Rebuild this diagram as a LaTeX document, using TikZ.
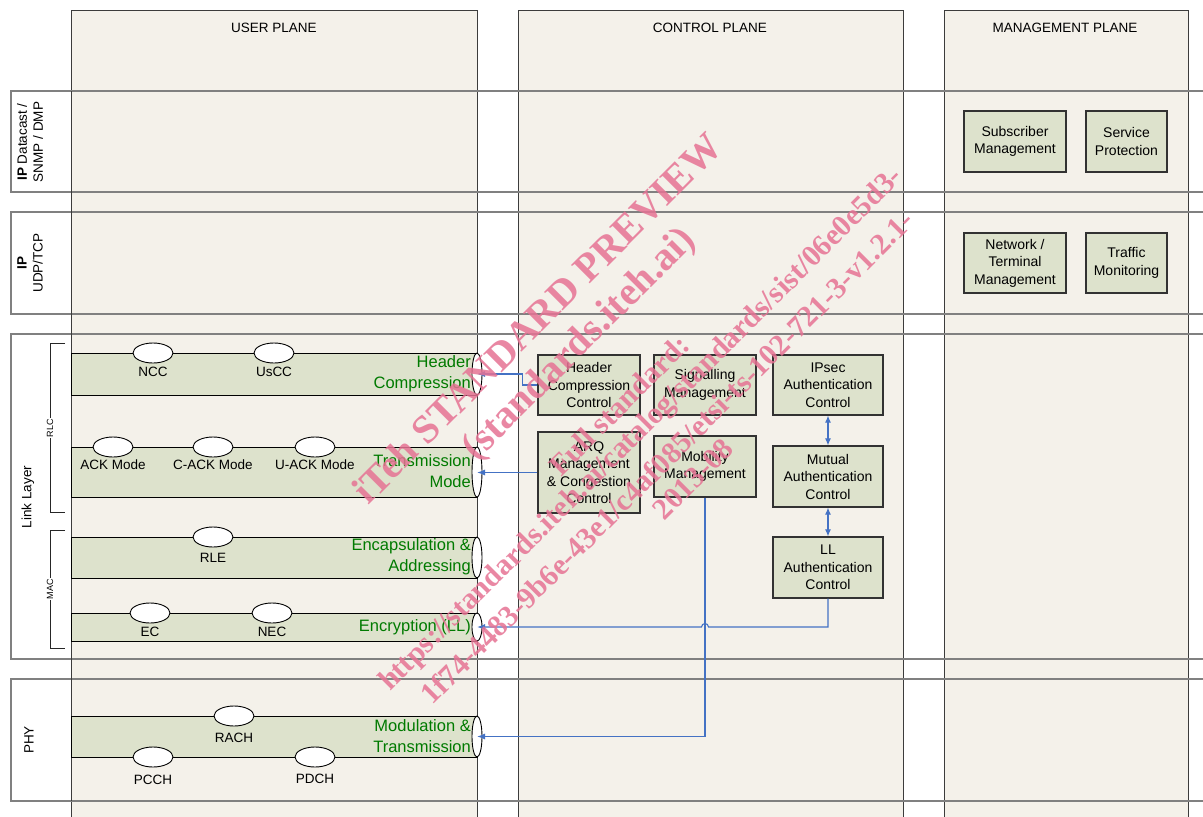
\documentclass[tikz,border=0pt]{standalone}
\usepackage{fontspec}
\setmainfont{Liberation Sans}
\newfontfamily\wmfont{Liberation Serif}
\usetikzlibrary{arrows.meta,calc,shapes.geometric}
\definecolor{beige}{RGB}{244,241,234}
\definecolor{bandfill}{RGB}{221,226,204}
\definecolor{rowgray}{RGB}{128,128,128}
\definecolor{coledge}{RGB}{60,60,60}
\definecolor{boxedge}{RGB}{50,50,50}
\definecolor{conblue}{RGB}{68,114,196}
\definecolor{labgreen}{RGB}{0,122,0}
\definecolor{wmpink}{RGB}{230,115,148}
\tikzset{
  column/.style={fill=beige, draw=coledge, line width=1pt},
  rowbox/.style={draw=rowgray, line width=1.6pt},
  band/.style={rectangle, fill=bandfill, draw=black, line width=0.9pt, inner sep=0pt, outer sep=0pt, minimum width=406pt},
  endell/.style={ellipse, draw=black, fill=white, line width=0.9pt, inner sep=0pt, outer sep=0pt, minimum width=10pt},
  oval/.style={ellipse, draw=black, fill=white, line width=0.9pt, inner sep=0pt, minimum width=40pt, minimum height=20pt},
  ovlab/.style={inner sep=0pt, font=\fontsize{13.5}{16}\selectfont},
  bandlab/.style={inner sep=0pt, anchor=east, align=right, text=labgreen, font=\fontsize{16.5}{21}\selectfont},
  box/.style={rectangle, draw=boxedge, line width=1.2pt, fill=bandfill, align=center, inner sep=0pt, font=\fontsize{14}{17.5}\selectfont},
  hdr/.style={inner sep=0pt, font=\fontsize{13.5}{16}\selectfont},
  rowlab/.style={inner sep=0pt, rotate=90, align=center, font=\fontsize{13.5}{16}\selectfont},
  brk/.style={draw=black!85, line width=0.9pt},
  sublab/.style={rotate=90, fill=white, inner sep=1pt, font=\fontsize{9}{10}\selectfont},
  conn/.style={draw=conblue, line width=1.1pt, -{Latex[length=8pt,width=6pt]}},
  dblconn/.style={draw=conblue, line width=1.1pt, {Latex[length=7pt,width=6pt]}-{Latex[length=7pt,width=6pt]}},
  wm/.style={text=wmpink, opacity=0.85, rotate=45, inner sep=0pt}
}
\begin{document}
\begin{tikzpicture}[x=1pt,y=-1pt]
\useasboundingbox (0,0) rectangle (1203,817);
\clip (0,0) rectangle (1203,817);
\fill[white] (0,0) rectangle (1203,817);
% columns
\draw[column] (71,10) rectangle (477,830);
\draw[column] (518,10) rectangle (903,830);
\draw[column] (944,10) rectangle (1188,830);
\node[hdr] (hU) at (274,28) {USER PLANE};
\node[hdr] (hC) at (710,28) {CONTROL PLANE};
\node[hdr] (hM) at (1065,28) {MANAGEMENT PLANE};
% rows
\fill[white] (11,91) rectangle (71,192);
\fill[white] (11,212) rectangle (71,314);
\fill[white] (11,334) rectangle (71,659);
\fill[white] (11,679) rectangle (71,801);
\draw[rowbox] (1215,91) -- (11,91) -- (11,192) -- (1215,192);
\draw[rowbox] (1215,212) -- (11,212) -- (11,314) -- (1215,314);
\draw[rowbox] (1215,334) -- (11,334) -- (11,659) -- (1215,659);
\draw[rowbox] (1215,679) -- (11,679) -- (11,801) -- (1215,801);
\draw[coledge, line width=1pt] (71,91) -- (71,801);
\node[rowlab] (lIPD) at (30,142) {\textbf{IP} Datacast /\\SNMP / DMP};
\node[rowlab] (lIP) at (30,263) {\textbf{IP}\\UDP/TCP};
\node[rowlab] (lLL) at (28,497) {Link Layer};
\node[rowlab] (lPHY) at (29,740) {PHY};
% brackets
\draw[brk] (65,343) -- (50,343) -- (50,512) -- (65,512);
\node[sublab] (rlc) at (50,428) {RLC};
\draw[brk] (65,530) -- (50,530) -- (50,648) -- (65,648);
\node[sublab] (mac) at (50,589) {MAC};
% bands
\node[band, minimum height=42pt] (hcB) at (274,374) {};
\node[band, minimum height=50pt] (tmB) at (274,472) {};
\node[band, minimum height=41pt] (eaB) at (274,557.5) {};
\node[band, minimum height=28pt] (enB) at (274,627) {};
\node[band, minimum height=41pt] (mtB) at (274,736.5) {};
\node[endell, minimum height=42pt] (hcE) at (477,374) {};
\node[endell, minimum height=50pt] (tmE) at (477,472) {};
\node[endell, minimum height=41pt] (eaE) at (477,557.5) {};
\node[endell, minimum height=28pt] (enE) at (477,627) {};
\node[endell, minimum height=41pt] (mtE) at (477,736.5) {};
\node[bandlab] (hcL) at (471,374) {Header\\Compression};
\node[bandlab] (tmL) at (471,471) {Transmission\\Mode};
\node[bandlab] (eaL) at (471,557) {Encapsulation \&\\Addressing};
\node[bandlab] (enL) at (471,627) {Encryption (LL)};
\node[bandlab] (mtL) at (471,736) {Modulation \&\\Transmission};
% ovals
\node[oval] (ncc) at (153,353) {};
\node[ovlab] (nccL) at (153,372) {NCC};
\node[oval] (uscc) at (274,353) {};
\node[ovlab] (usccL) at (274,372) {UsCC};
\node[oval] (ack) at (113,447) {};
\node[ovlab] (ackL) at (113,465) {ACK Mode};
\node[oval] (cack) at (213,447) {};
\node[ovlab] (cackL) at (213,465) {C-ACK Mode};
\node[oval] (uack) at (315,447) {};
\node[ovlab] (uackL) at (315,465) {U-ACK Mode};
\node[oval] (rle) at (213,537) {};
\node[ovlab] (rleL) at (213,558) {RLE};
\node[oval] (ec) at (150,613) {};
\node[ovlab] (ecL) at (150,632) {EC};
\node[oval] (nec) at (272,613) {};
\node[ovlab] (necL) at (272,632) {NEC};
\node[oval] (rach) at (234,716) {};
\node[ovlab] (rachL) at (234,738) {RACH};
\node[oval] (pcch) at (153,757) {};
\node[ovlab] (pcchL) at (153,780) {PCCH};
\node[oval] (pdch) at (315,757) {};
\node[ovlab] (pdchL) at (315,779) {PDCH};
% control plane boxes
\node[box, minimum width=102pt, minimum height=60pt] (hcc) at (589,385) {Header\\Compression\\Control};
\node[box, minimum width=102pt, minimum height=60pt] (sig) at (705,385) {Signalling\\Management};
\node[box, minimum width=110pt, minimum height=60pt] (ipsec) at (828,385) {IPsec\\Authentication\\Control};
\node[box, minimum width=102pt, minimum height=81pt] (arq) at (589,472.5) {ARQ\\Management\\\& Congestion\\Control};
\node[box, minimum width=102pt, minimum height=61pt] (mm) at (705,466.5) {Mobility\\Management};
\node[box, minimum width=110pt, minimum height=61pt] (mut) at (828,476.5) {Mutual\\Authentication\\Control};
\node[box, minimum width=110pt, minimum height=61pt] (ll) at (828,567.5) {LL\\Authentication\\Control};
% management plane boxes
\node[box, minimum width=102pt, minimum height=61pt] (sub) at (1015,141.5) {Subscriber\\Management};
\node[box, minimum width=81pt, minimum height=61pt] (srv) at (1126.5,141.5) {Service\\Protection};
\node[box, minimum width=102pt, minimum height=60pt] (ntm) at (1015,263) {Network /\\Terminal\\Management};
\node[box, minimum width=81pt, minimum height=60pt] (trf) at (1126.5,263) {Traffic\\Monitoring};
% connectors
\draw[conn] (hcc.west) -- ++(-15,0) |- (hcE.center);
\draw[conn] (arq.west) -- (arq.west -| tmE.center);
\draw[conn] (mm.south) |- (mtE.center);
\coordinate (hop) at (mm.south |- enE.center);
\draw[conn] (ll.south) |- ($(hop)+(3.5,0)$) .. controls +(0,-4.5) and +(0,-4.5) .. ($(hop)+(-3.5,0)$) -- (enE.center);
\draw[dblconn] (ipsec.south) -- (mut.north);
\draw[dblconn] (mut.south) -- (ll.north);
% watermark
\node[wm, font=\wmfont\bfseries\fontsize{40}{46}\selectfont] (wm1) at (537,318) {iTeh STANDARD PREVIEW};
\node[wm, font=\wmfont\bfseries\fontsize{40}{46}\selectfont] (wm2) at (580,345) {(standards.iteh.ai)};
\node[wm, font=\wmfont\bfseries\fontsize{30}{35}\selectfont] (wm3) at (619,405) {Full standard:};
\node[wm, font=\wmfont\bfseries\fontsize{30}{35}\selectfont] (wm4) at (642,430) {https://standards.iteh.ai/catalog/standards/sist/06e0e5d3-};
\node[wm, font=\wmfont\bfseries\fontsize{30}{35}\selectfont] (wm5) at (667,457) {1f74-4483-9b6e-43e1/c4af085/etsi-ts-102-721-3-v1.2.1-};
\node[wm, font=\wmfont\bfseries\fontsize{30}{35}\selectfont] (wm6) at (693,479) {2013-08};
\end{tikzpicture}
\end{document}
